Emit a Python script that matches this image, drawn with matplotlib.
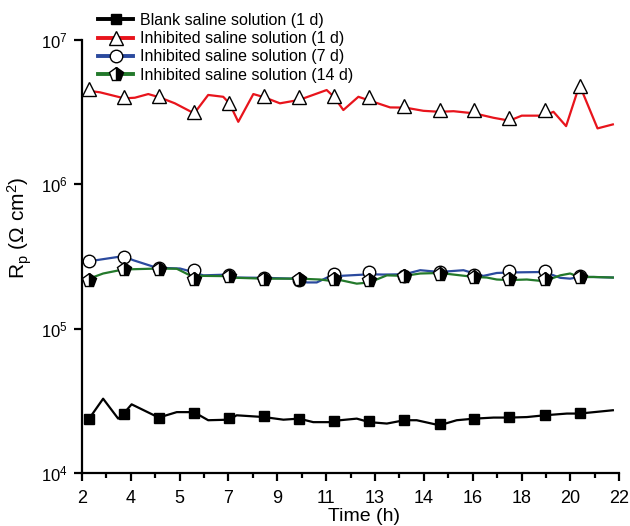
import numpy as np
import matplotlib.pyplot as plt
from matplotlib.lines import Line2D

plt.rcParams['font.family'] = ['Liberation Sans', 'DejaVu Sans']
plt.rcParams['mathtext.fontset'] = 'custom'
plt.rcParams['mathtext.rm'] = 'Liberation Sans'
plt.rcParams['mathtext.it'] = 'Liberation Sans:italic'

# tiempo (h) y Rp (ohm cm2)
t_marker = [2.27, 3.57, 4.88, 6.18, 7.49, 8.79, 10.09, 11.40, 12.70, 14.00,
            15.31, 16.61, 17.91, 19.22, 20.52]

# blanco 1 d
t_blank = [2.27, 2.79, 3.35, 3.54, 3.85, 4.86, 5.53, 6.17, 6.70, 7.47, 7.76, 8.78,
           9.50, 10.08, 10.61, 11.38, 11.61, 12.23, 12.70, 13.35, 14.00, 14.46,
           15.31, 15.95, 16.61, 17.32, 17.91, 18.56, 19.22, 20.05, 20.52, 21.76]
rp_blank = [2.38e4, 3.27e4, 2.38e4, 2.56e4, 2.99e4, 2.42e4, 2.64e4, 2.64e4, 2.32e4,
            2.34e4, 2.51e4, 2.44e4, 2.34e4, 2.38e4, 2.25e4, 2.25e4, 2.32e4, 2.38e4,
            2.25e4, 2.20e4, 2.32e4, 2.32e4, 2.14e4, 2.32e4, 2.38e4, 2.42e4, 2.42e4,
            2.44e4, 2.51e4, 2.58e4, 2.58e4, 2.72e4]
rp_blank_m = [2.38e4, 2.56e4, 2.42e4, 2.60e4, 2.40e4, 2.48e4, 2.38e4, 2.28e4, 2.28e4,
              2.31e4, 2.18e4, 2.38e4, 2.43e4, 2.51e4, 2.59e4]

# inhibida 1 d
t_inh1 = [2.30, 2.67, 3.58, 3.97, 4.47, 4.88, 5.46, 6.18, 6.70, 7.26, 7.49, 7.82,
          8.38, 8.79, 9.37, 10.08, 11.11, 11.38, 11.73, 12.29, 12.73, 13.47, 14.03,
          14.71, 15.31, 15.83, 16.61, 17.32, 17.91, 18.37, 19.22, 19.55, 20.02,
          20.52, 21.19, 21.76]
rp_inh1 = [4.43e6, 4.34e6, 3.94e6, 3.98e6, 4.22e6, 4.01e6, 3.64e6, 3.10e6, 4.16e6,
           4.04e6, 3.64e6, 2.71e6, 4.22e6, 4.01e6, 3.64e6, 3.84e6, 4.50e6, 4.04e6,
           3.27e6, 4.04e6, 3.79e6, 3.41e6, 3.40e6, 3.23e6, 3.18e6, 3.21e6, 3.10e6,
           2.89e6, 2.76e6, 2.99e6, 2.99e6, 3.18e6, 2.53e6, 4.88e6, 2.44e6, 2.60e6]
rp_inh1_m = [4.57e6, 4.04e6, 4.11e6, 3.17e6, 3.64e6, 4.07e6, 4.03e6, 4.11e6, 4.01e6,
             3.49e6, 3.27e6, 3.27e6, 2.89e6, 3.25e6, 4.82e6]

# inhibida 7 d
t_inh7 = [2.27, 3.54, 3.91, 4.60, 4.88, 5.65, 6.02, 6.52, 7.47, 7.76, 8.78, 9.87,
          10.37, 10.74, 11.17, 11.38, 11.61, 12.70, 13.22, 14.00, 14.59, 15.31,
          16.20, 16.61, 16.94, 17.44, 17.91, 19.22, 19.80, 20.17, 20.52, 21.04, 21.76]
rp_inh7 = [2.93e5, 3.18e5, 2.98e5, 2.71e5, 2.64e5, 2.61e5, 2.50e5, 2.34e5, 2.37e5,
           2.26e5, 2.25e5, 2.22e5, 2.09e5, 2.09e5, 2.28e5, 2.37e5, 2.32e5, 2.38e5,
           2.37e5, 2.38e5, 2.54e5, 2.47e5, 2.54e5, 2.41e5, 2.32e5, 2.43e5, 2.45e5,
           2.47e5, 2.25e5, 2.22e5, 2.28e5, 2.28e5, 2.26e5]
rp_inh7_m = [2.93e5, 3.14e5, 2.64e5, 2.54e5, 2.37e5, 2.25e5, 2.17e5, 2.41e5, 2.47e5,
             2.32e5, 2.47e5, 2.37e5, 2.50e5, 2.50e5, 2.32e5]

# inhibida 14 d
t_inh14 = [2.27, 2.79, 3.54, 4.88, 5.53, 6.02, 6.52, 7.47, 7.76, 8.78, 10.08, 10.86,
           11.38, 11.61, 12.23, 12.70, 13.35, 14.00, 14.59, 15.31, 15.83, 16.61,
           17.07, 17.44, 17.91, 18.56, 19.22, 19.80, 20.17, 20.52, 21.04, 21.76]
rp_inh14 = [2.22e5, 2.41e5, 2.57e5, 2.61e5, 2.60e5, 2.34e5, 2.32e5, 2.31e5, 2.25e5,
            2.22e5, 2.22e5, 2.19e5, 2.13e5, 2.17e5, 2.05e5, 2.09e5, 2.34e5, 2.32e5,
            2.41e5, 2.43e5, 2.37e5, 2.28e5, 2.26e5, 2.19e5, 2.17e5, 2.19e5, 2.13e5,
            2.34e5, 2.41e5, 2.28e5, 2.28e5, 2.26e5]
rp_inh14_m = [2.17e5, 2.57e5, 2.61e5, 2.22e5, 2.31e5, 2.22e5, 2.22e5, 2.22e5, 2.17e5,
              2.31e5, 2.41e5, 2.28e5, 2.20e5, 2.20e5, 2.28e5]

xtick_labels = ['2', '4', '5', '7', '9', '11', '13', '14', '16', '18', '20', '22']

fig = plt.figure(figsize=(6.3, 5.26), dpi=100)
ax = fig.add_axes([0.130, 0.1008, 0.853, 0.8232])

series = [
    (t_blank, rp_blank, rp_blank_m, 'black', dict(marker='s', ms=7, mfc='black', mec='black'),
     'Blank saline solution (1 d)'),
    (t_inh1, rp_inh1, rp_inh1_m, '#e8141c', dict(marker='^', ms=10.5, mfc='white', mec='black', mew=1),
     'Inhibited saline solution (1 d)'),
    (t_inh7, rp_inh7, rp_inh7_m, '#2b4a9e', dict(marker='o', ms=9, mfc='white', mec='black', mew=1),
     'Inhibited saline solution (7 d)'),
    (t_inh14, rp_inh14, rp_inh14_m, '#23792b', dict(marker='p', ms=10, mfc='black', mec='black',
                                                   mew=1, fillstyle='right', markerfacecoloralt='white'),
     'Inhibited saline solution (14 d)'),
]

handles = []
for i, (t, rp, rp_m, col, mk, lab) in enumerate(series):
    ax.plot(t, rp, color=col, lw=1.6, zorder=2 + i)
    ax.plot(t_marker, rp_m, linestyle='none', zorder=10 + i, **mk)
    handles.append(Line2D([0], [0], color=col, lw=2.8, label=lab, **mk))

ax.set_yscale('log')
ax.set_ylim(1e4, 1e7)
ax.set_xlim(2, 22)
xt = np.linspace(2, 22, 12)
ax.set_xticks(xt)
ax.set_xticklabels(xtick_labels)
ax.set_xticks((xt[:-1] + xt[1:]) / 2, minor=True)
ax.yaxis.set_minor_locator(plt.NullLocator())

for s in ['top', 'right']:
    ax.spines[s].set_visible(False)
for s in ['left', 'bottom']:
    ax.spines[s].set_linewidth(1.6)

ax.tick_params(axis='both', which='major', direction='out', length=6, width=1.6, labelsize=13)
ax.tick_params(axis='x', which='major', pad=6)
ax.tick_params(axis='y', which='major', pad=4, labelsize=12)
ax.tick_params(axis='x', which='minor', direction='out', length=3.5, width=1.6)

ax.set_xlabel('Time (h)', fontsize=14)
ax.set_ylabel(r'R$_\mathrm{p}$ ($\Omega$ cm$^2$)', fontsize=15)
ax.xaxis.set_label_coords(0.525, -0.080)
ax.yaxis.set_label_coords(-0.090, 0.566)

fig.legend(handles=handles, loc='upper left', bbox_to_anchor=(98 / 630, 1 - 13 / 526),
           frameon=False, fontsize=11.5, handlelength=2.2, handletextpad=0.4,
           labelspacing=0.2, borderpad=0, borderaxespad=0)

fig.savefig('out.png', dpi=100)
